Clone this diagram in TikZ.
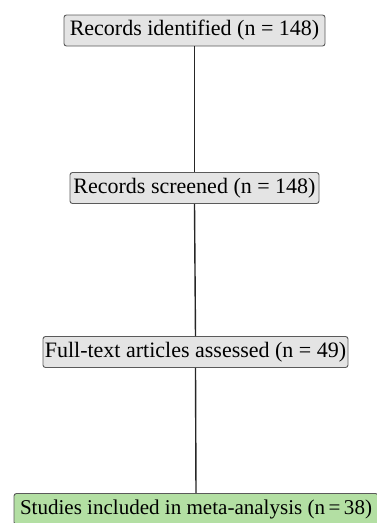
\documentclass[tikz,border=0pt]{standalone}
\usepackage{fontspec}
\setmainfont{Liberation Serif}
\definecolor{boxgray}{HTML}{E4E4E4}
\definecolor{boxgreen}{HTML}{B3DFA3}
\definecolor{edgegray}{HTML}{5A5A5A}
\begin{document}
\begin{tikzpicture}[x=1pt,y=-1pt,
  stage/.style={draw=edgegray, line width=0.9pt, rounded corners=2.5pt, fill=boxgray,
    minimum height=31pt, inner sep=0pt, font=\fontsize{22}{24}\selectfont},
  final/.style={stage, fill=boxgreen},
  link/.style={line width=1.4pt, draw=black!85}]
\useasboundingbox (0,0) rectangle (377,523);
\begin{scope}
\clip (0,0) rectangle (377,523);
\node[stage, minimum width=261pt] (a) at (194.5,30.5) {Records identified (n = 148)};
\node[stage, minimum width=249pt] (b) at (194.5,188) {Records screened (n = 148)};
\node[stage, minimum width=305pt] (c) at (195.5,352) {Full-text articles assessed (n = 49)};
\node[final, minimum width=364pt] (d) at (196,509) {\resizebox{352pt}{!}{Studies included in meta-analysis (n\,=\,38)}};
\draw[link] (a.south) -- (b.north);
\draw[link] (b.south) -- (c.north);
\draw[link] (c.south) -- (d.north);
\end{scope}
\end{tikzpicture}
\end{document}
